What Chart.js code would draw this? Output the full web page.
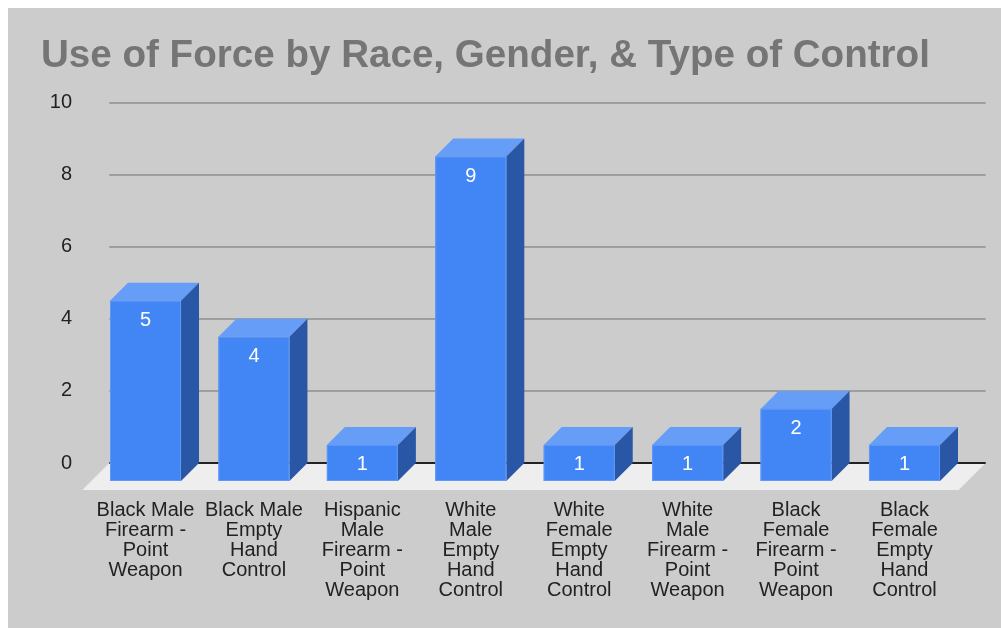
<!DOCTYPE html>
<html>
<head>
<meta charset="utf-8">
<script src="https://cdn.jsdelivr.net/npm/chart.js@4"></script>
<style>
  html, body { margin: 0; padding: 0; background: #ffffff; }
  #wrap { position: absolute; left: 8px; top: 8px; width: 993px; height: 620px; background: #cccccc; }
</style>
</head>
<body>
<div id="wrap"><canvas id="myChart" width="993" height="620"></canvas></div>
<script>
const chartTitle = 'Use of Force by Race, Gender, & Type of Control';

const categories = [
    ['Black Male', 'Firearm -', 'Point', 'Weapon'],
    ['Black Male', 'Empty', 'Hand', 'Control'],
    ['Hispanic', 'Male', 'Firearm -', 'Point', 'Weapon'],
    ['White', 'Male', 'Empty', 'Hand', 'Control'],
    ['White', 'Female', 'Empty', 'Hand', 'Control'],
    ['White', 'Male', 'Firearm -', 'Point', 'Weapon'],
    ['Black', 'Female', 'Firearm -', 'Point', 'Weapon'],
    ['Black', 'Female', 'Empty', 'Hand', 'Control']
];
const counts = [5, 4, 1, 9, 1, 1, 2, 1];
const yTicks = [0, 2, 4, 6, 8, 10];

// 3d look
const depthX = 18;
const depthY = 18;
const floorDepth = 27;
const gridExtra = 9;
const fontFamily = "'Liberation Sans', Arial, sans-serif";

const backdrop = {
    id: 'backdrop',
    beforeDatasetsDraw(chart) {
        const { ctx, chartArea, scales } = chart;
        const yScale = scales.y;
        const y0 = Math.round(yScale.getPixelForValue(0));
        const left = chartArea.left;
        const right = chartArea.right + gridExtra;

        ctx.save();
        ctx.fillStyle = '#eeeeee';
        ctx.beginPath();
        ctx.moveTo(left, y0);
        ctx.lineTo(right, y0);
        ctx.lineTo(right - floorDepth, y0 + floorDepth);
        ctx.lineTo(left - floorDepth, y0 + floorDepth);
        ctx.closePath();
        ctx.fill();

        ctx.strokeStyle = '#9e9e9e';
        ctx.lineWidth = 2;
        yScale.ticks.forEach(t => {
            if (t.value === 0) return;
            const py = Math.round(yScale.getPixelForValue(t.value));
            ctx.beginPath();
            ctx.moveTo(left, py);
            ctx.lineTo(right, py);
            ctx.stroke();
        });

        ctx.strokeStyle = '#222222';
        ctx.beginPath();
        ctx.moveTo(left, y0);
        ctx.lineTo(right, y0);
        ctx.stroke();

        ctx.fillStyle = '#757575';
        ctx.font = "bold 38.6px " + fontFamily;
        ctx.textBaseline = 'alphabetic';
        ctx.textAlign = 'left';
        ctx.fillText(chartTitle, 33, 59);
        ctx.restore();
    },
    afterDatasetsDraw(chart) {
        const { ctx } = chart;
        const meta = chart.getDatasetMeta(0);
        ctx.save();
        meta.data.forEach((bar, i) => {
            const p = bar.getProps(['x', 'y', 'base', 'width'], true);
            const l = p.x - p.width / 2;
            const r = p.x + p.width / 2;
            const top = p.y;
            const base = p.base;
            const fl = l - depthX, fr = r - depthX;
            const ft = top + depthY, fb = base + depthY;

            // top face
            ctx.fillStyle = '#669df6';
            ctx.beginPath();
            ctx.moveTo(fl, ft);
            ctx.lineTo(fr, ft);
            ctx.lineTo(r, top);
            ctx.lineTo(l, top);
            ctx.closePath();
            ctx.fill();

            // side face
            ctx.fillStyle = '#2a56a6';
            ctx.beginPath();
            ctx.moveTo(fr, ft);
            ctx.lineTo(r, top);
            ctx.lineTo(r, base);
            ctx.lineTo(fr, fb);
            ctx.closePath();
            ctx.fill();

            // front face
            ctx.fillStyle = '#4285f4';
            ctx.fillRect(fl, ft, p.width, fb - ft);
            ctx.strokeStyle = '#5f98f6';
            ctx.lineWidth = 1;
            ctx.strokeRect(fl + 0.5, ft + 0.5, p.width - 1, fb - ft - 1);

            ctx.fillStyle = '#ffffff';
            ctx.font = "20px " + fontFamily;
            ctx.textAlign = 'center';
            ctx.textBaseline = 'middle';
            ctx.fillText(String(counts[i]), (fl + fr) / 2, ft + 20);
        });
        ctx.restore();
    }
};

const ctx = document.getElementById('myChart').getContext('2d');
const myChart = new Chart(ctx, {
    type: 'bar',
    data: {
        labels: categories,
        datasets: [{
            label: 'Count',
            data: counts,
            backgroundColor: 'rgba(0,0,0,0)',
            borderWidth: 0,
            barPercentage: 0.655,
            categoryPercentage: 1
        }]
    },
    options: {
        responsive: false,
        animation: false,
        layout: {
            padding: { left: 0, right: 24.3, top: 94.5, bottom: 0 }
        },
        plugins: {
            legend: { display: false },
            title: { display: false },
            tooltip: { enabled: false }
        },
        scales: {
            x: {
                grid: { display: false, drawTicks: false },
                border: { display: false },
                ticks: {
                    color: '#222222',
                    font: { family: fontFamily, size: 20, lineHeight: 1 },
                    padding: 37,
                    labelOffset: -depthX,
                    maxRotation: 0,
                    autoSkip: false
                },
                afterFit(scale) { scale.height = 165; }
            },
            y: {
                min: 0,
                max: 10,
                afterBuildTicks(scale) { scale.ticks = yTicks.map(v => ({ value: v })); },
                grid: { display: false, drawTicks: false },
                border: { display: false },
                ticks: {
                    color: '#222222',
                    font: { family: fontFamily, size: 20 },
                    padding: 37.3
                },
                afterFit(scale) { scale.width = 101.3; }
            }
        }
    },
    plugins: [backdrop]
});
</script>
</body>
</html>
